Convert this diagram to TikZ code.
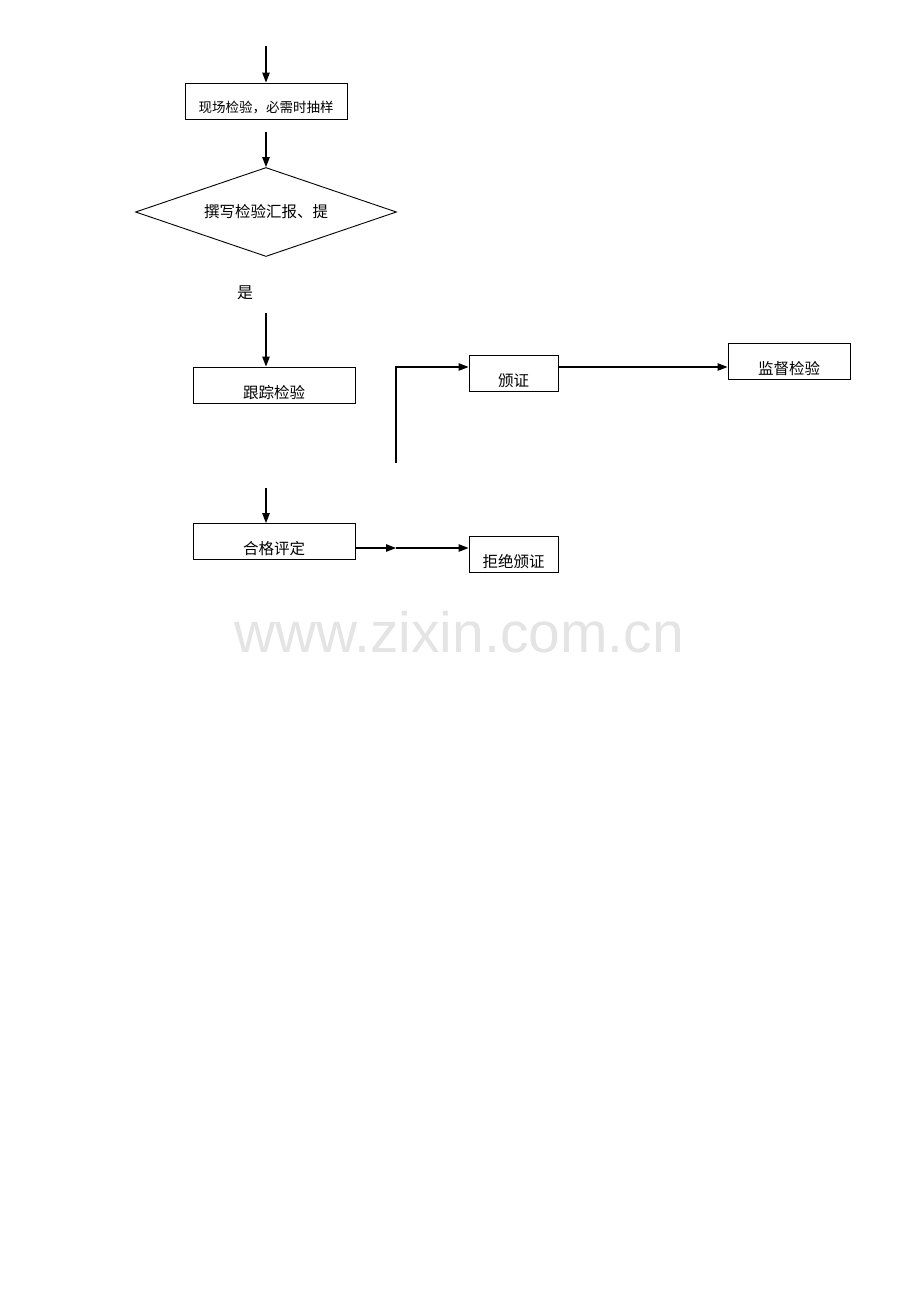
\documentclass[tikz,border=0pt]{standalone}
\usepackage{fontspec}
\newfontfamily\cjk{Noto Sans CJK SC}
\newfontfamily\wmfont{Liberation Sans}
\usepackage{tikz}
\usetikzlibrary{arrows.meta, positioning, shapes.geometric}
\tikzset{>={Triangle[length=10pt,width=7.5pt]}}
\tikzset{
	flowbox/.style={draw, line width=0.9pt, inner sep=0pt, minimum height=36pt,
		text height=28pt, text depth=2pt, font=\cjk\fontsize{15.5}{18}\selectfont},
	flowline/.style={line width=1.1pt},
}
\definecolor{wmgray}{HTML}{E4E4E4}

\begin{document}
\begin{tikzpicture}[x=1pt,y=-1pt]
			\useasboundingbox (0,0) rectangle (920,1302);
			% left column
			\node[flowbox, minimum width=162pt, text height=24pt, font=\cjk\fontsize{13.5}{16}\selectfont] (onsite) at (266,101) {现场检验，必需时抽样};
			\node[draw, diamond, line width=0.9pt, inner sep=0pt, aspect=2.9, minimum width=261pt, minimum height=89pt, font=\cjk\fontsize{15.5}{18}\selectfont] (report) at (266,212) {撰写检验汇报、提};
			\node[font=\cjk\fontsize{16}{18}\selectfont] (yes) at (245,293) {是};
			\node[flowbox, minimum width=162pt] (track) at (274,385) {跟踪检验};
			\node[flowbox, minimum width=162pt] (assess) at (274,541.5) {合格评定};
			% right part
			\node[flowbox, minimum width=89pt] (issue) at (513.5,373) {颁证};
			\node[flowbox, minimum width=122pt] (supervise) at (789,361) {监督检验};
			\node[flowbox, minimum width=89pt] (refuse) at (513.5,554) {拒绝颁证};
			\node[font=\wmfont\fontsize{57}{60}\selectfont, text=wmgray, anchor=base] (mark) at (459,652) {www.zixin.com.cn};
			% connectors
			\coordinate (start) at (266,46);
			\coordinate (down1) at (266,313);
			\coordinate (down2) at (266,488);
			\coordinate (rise) at (396,463);
			\coordinate (fork) at (396,548);
			\draw[flowline,->] (start) -- (onsite.north -| start);
			\draw[flowline,->] ([yshift=-13pt]onsite.south -| start) -- (report.north);
			\draw[flowline,->] (down1) -- (track.north -| down1);
			\draw[flowline,->] (down2) -- (assess.north -| down2);
			\draw[flowline,->] (rise) |- ([yshift=6pt]issue.west);
			\draw[flowline,->] ([yshift=6pt]issue.east) -- ([yshift=-6pt]supervise.west);
			\draw[flowline,->] (assess.east |- fork) -- (fork);
			\draw[flowline,->] (fork) -- (refuse.west |- fork);
\end{tikzpicture}
\end{document}
